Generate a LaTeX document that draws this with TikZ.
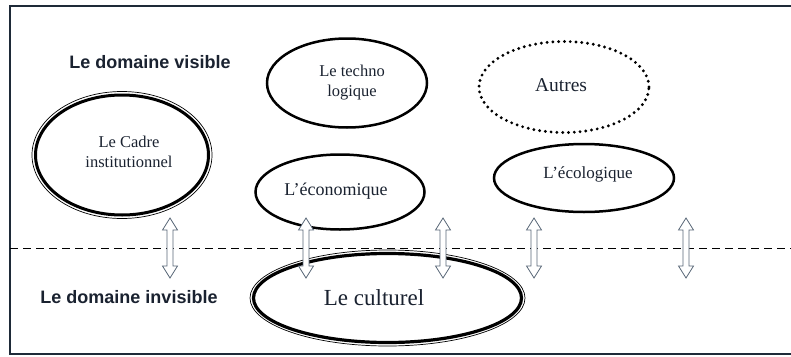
\documentclass[tikz,border=0pt]{standalone}
\usepackage{fontspec}
\setmainfont{Liberation Serif}
\setsansfont{Liberation Sans}
\usetikzlibrary{shapes.geometric}
\definecolor{frm}{HTML}{1E2A38}
\definecolor{arrc}{HTML}{5A6878}
\definecolor{txt}{HTML}{1A2230}
\begin{document}
\begin{tikzpicture}[x=1pt,y=-1pt,
  ell/.style={ellipse, draw, line width=2.5pt, inner sep=0pt},
  thinell/.style={ellipse, draw, line width=0.7pt, inner sep=0pt},
  dotell/.style={ellipse, draw, line width=3.2pt, line cap=round, dash pattern=on 0pt off 5.8pt, inner sep=0pt},
  lbl/.style={text=txt, align=center, inner sep=0pt},
  dom/.style={font=\sffamily\bfseries\fontsize{18}{20}\selectfont, text=txt, inner sep=0pt},
  darr/.style={draw=arrc, fill=white, line width=0.8pt, line join=miter}
]
\useasboundingbox (0,0) rectangle (791,356);
\fill[white] (0,0) rectangle (791,356);

% frame
\coordinate (ftr) at (800,6);
\coordinate (ftl) at (10,6);
\coordinate (fbl) at (10,354);
\coordinate (fbr) at (800,354);
\draw[line width=1.8pt, draw=frm] (ftr) -- (ftl) -- (fbl) -- (fbr);

% dashed line
\coordinate (dl) at (10,248);
\coordinate (dr) at (791,248);
\draw[line width=0.8pt, dash pattern=on 8pt off 5pt] (dl) -- (dr);

% domain labels
\node[dom] (vis) at (150,62) {Le domaine visible};
\node[dom] (invis) at (129,297) {Le domaine invisible};

% Cadre institutionnel (double)
\node[thinell, minimum width=180pt, minimum height=127pt] (cadreo) at (122,155) {};
\node[ell, line width=3pt, minimum width=173pt, minimum height=120pt] (cadre) at (122,155) {};
\node[lbl, font=\fontsize{16.5}{20}\selectfont] (cadret) at (129,152) {Le Cadre\\institutionnel};

% techno logique
\node[ell, minimum width=160pt, minimum height=89pt] (techno) at (347,83) {};
\node[lbl, font=\fontsize{16.5}{20}\selectfont] (technot) at (352,83) {Le techno\\logique};

% Autres
\node[dotell, minimum width=170pt, minimum height=91pt] (autres) at (564,87) {};
\node[lbl, font=\fontsize{19.5}{22}\selectfont] (autrest) at (561,85) {Autres};

% economique
\node[ell, minimum width=169pt, minimum height=75pt] (eco) at (340,192) {};
\node[lbl, font=\fontsize{18}{20}\selectfont] (ecot) at (336,191) {L’économique};

% ecologique
\node[ell, minimum width=180pt, minimum height=68pt] (ecol) at (584,178) {};
\node[lbl, font=\fontsize{17}{20}\selectfont] (ecolt) at (588,174) {L’écologique};

% culturel (double)
\node[thinell, minimum width=275pt, minimum height=96pt] (culto) at (387.5,298) {};
\node[ell, line width=3.2pt, minimum width=268pt, minimum height=89pt] (cult) at (387.5,298) {};
\node[lbl, font=\fontsize{23}{24}\selectfont] (cultt) at (374,298) {Le culturel};

% double hollow arrows
\foreach \x in {170,306,443,534,686}{
  \draw[darr] (\x,218) -- ({\x+7.5},230) -- ({\x+3},230) -- ({\x+3},266) -- ({\x+7.5},266)
    -- (\x,278) -- ({\x-7.5},266) -- ({\x-3},266) -- ({\x-3},230) -- ({\x-7.5},230) -- cycle;
}
\end{tikzpicture}
\end{document}
